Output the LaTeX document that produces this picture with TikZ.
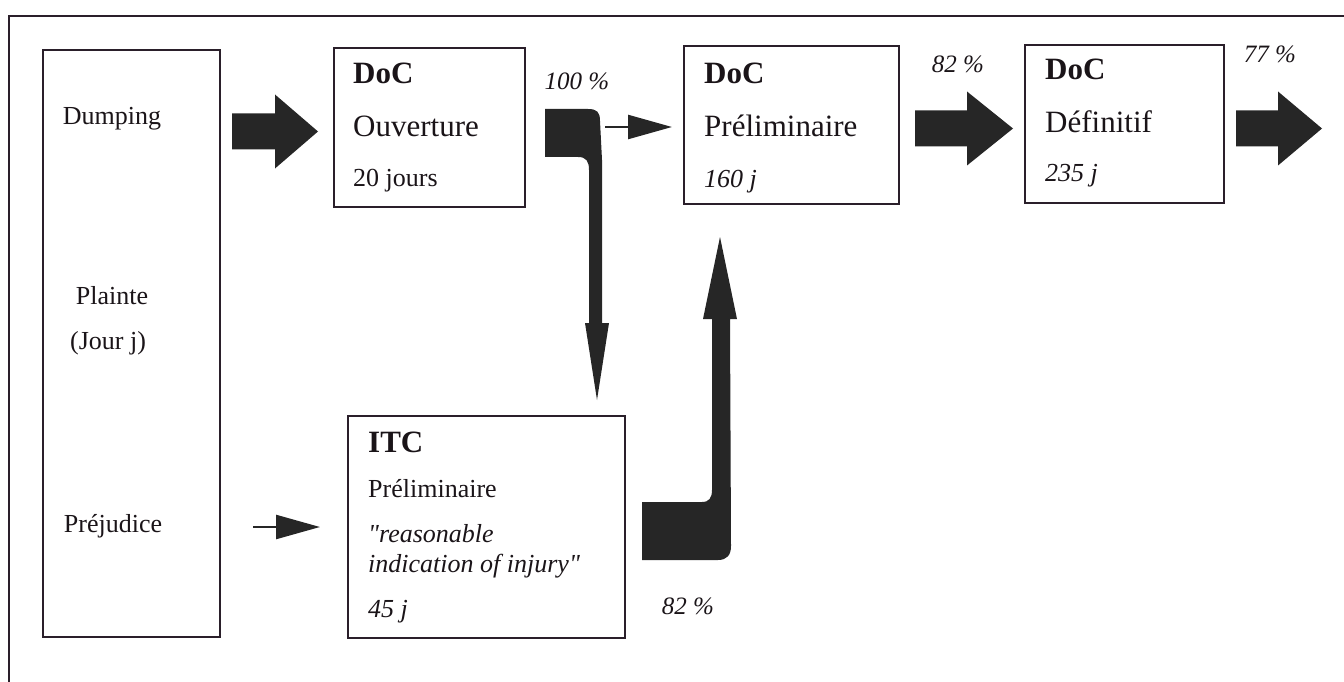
\documentclass[tikz,border=0pt]{standalone}
\usepackage{fontspec}
\setmainfont{Liberation Serif}[Ligatures=TeXOff]
\usepackage{xcolor}
\usetikzlibrary{arrows.meta}

\definecolor{ink}{HTML}{1A1418}
\definecolor{boxline}{HTML}{2A1F2A}
\definecolor{arrowfill}{HTML}{262626}

\newcommand{\bigsize}{\fontsize{31}{37}\selectfont}
\newcommand{\smallsize}{\fontsize{26}{31}\selectfont}
\newcommand{\pctsize}{\fontsize{25}{30}\selectfont\itshape}

\begin{document}
\begin{tikzpicture}[
    x=1pt,
    y=-1pt,
    box/.style={
        draw=boxline,
        line width=1.6pt,
        inner sep=0pt,
        anchor=north west
        },
    txt/.style={
        inner sep=0pt,
        anchor=base west,
        text=ink
        },
    pct/.style={
        inner sep=0pt,
        anchor=base,
        text=ink,
        font=\pctsize
        },
    thinarrow/.style={
        line width=2.4pt,
        draw=arrowfill,
        -{Triangle[length=44pt,width=24pt]}
        }
    ]

\useasboundingbox (0,0) rectangle (1344,682);

%frame
\draw[line width=2pt, boxline] (9,682) -- (9,16) -- (1344,16);

%boxes
\node[box, minimum width=177pt, minimum height=587pt] (plainte) at (42,49) {};
\node[box, minimum width=191pt, minimum height=159pt] (ouverture) at (333,47) {};
\node[box, minimum width=215pt, minimum height=158pt] (prelim) at (683,45) {};
\node[box, minimum width=199pt, minimum height=158pt] (definitif) at (1024,44) {};
\node[box, minimum width=277pt, minimum height=222pt] (itc) at (347,415) {};

%left box labels
\node[txt, anchor=base, font=\smallsize] (dumping) at (112,125) {Dumping};
\node[txt, anchor=base, font=\smallsize] (plaintetxt) at (112,304) {Plainte};
\node[txt, anchor=base, font=\smallsize] (jour) at (108,349) {(Jour j)};
\node[txt, anchor=base, font=\smallsize] (prejudice) at (113,532) {Préjudice};

%DoC ouverture
\node[txt, font=\bigsize\bfseries] (ouv1) at (353,84) {DoC};
\node[txt, font=\bigsize] (ouv2) at (353,137) {Ouverture};
\node[txt, font=\smallsize] (ouv3) at (353,186) {20 jours};

%DoC preliminaire
\node[txt, font=\bigsize\bfseries] (pre1) at (704,84) {DoC};
\node[txt, font=\bigsize] (pre2) at (704,137) {Préliminaire};
\node[txt, font=\smallsize\itshape] (pre3) at (704,187) {160 j};

%DoC definitif
\node[txt, font=\bigsize\bfseries] (def1) at (1045,80) {DoC};
\node[txt, font=\bigsize] (def2) at (1045,133) {Définitif};
\node[txt, font=\smallsize\itshape] (def3) at (1045,182) {235 j};

%ITC preliminaire
\node[txt, font=\bigsize\bfseries] (itc1) at (368,452) {ITC};
\node[txt, font=\smallsize] (itc2) at (368,497) {Préliminaire};
\node[txt, font=\smallsize\itshape] (itc3) at (368,542) {"reasonable};
\node[txt, font=\smallsize\itshape] (itc4) at (368,572) {indication of injury"};
\node[txt, font=\smallsize\itshape] (itc5) at (368,617) {45 j};

%percentages
\node[pct] (p100) at (577,90) {100 \%};
\node[pct] (p82a) at (958,73) {82 \%};
\node[pct] (p77) at (1270,63) {77 \%};
\node[pct] (p82b) at (688,614) {82 \%};

%fat arrows: tail x / mid y / head x / tip x
\foreach \tx/\my/\hx/\px in {232/131.5/275/318,
                              915/128.5/967/1013,
                              1236/128.5/1278/1322}
\fill[arrowfill] (\tx,\my-18) -- (\hx,\my-18) -- (\hx,\my-37)
    -- (\px,\my) -- (\hx,\my+37) -- (\hx,\my+18) -- (\tx,\my+18) -- cycle;

%thin arrows
\coordinate (t1s) at (605,127);
\coordinate (t1e) at (672,127);
\coordinate (t2s) at (253,527);
\coordinate (t2e) at (320,527);
\draw[thinarrow] (t1s) -- (t1e);
\draw[thinarrow] (t2s) -- (t2e);

%bent arrow down to ITC
\fill[arrowfill] (545,109) -- (588,109)
    .. controls (597,109) and (600,112) .. (600,121)
    -- (602,160) -- (602,323) -- (609,323) -- (597,400)
    -- (585,323) -- (589,323) -- (589,170)
    .. controls (589,161) and (586,157) .. (578,157)
    -- (545,157) -- cycle;

%bent arrow up to preliminaire
\fill[arrowfill] (642,560) -- (718,560)
    .. controls (727,560) and (731,555) .. (731,546)
    -- (730,319) -- (737,319) -- (720,237)
    -- (703,319) -- (712,319) -- (712,490)
    .. controls (712,498) and (709,502) .. (702,502)
    -- (642,502) -- cycle;

\end{tikzpicture}
\end{document}
